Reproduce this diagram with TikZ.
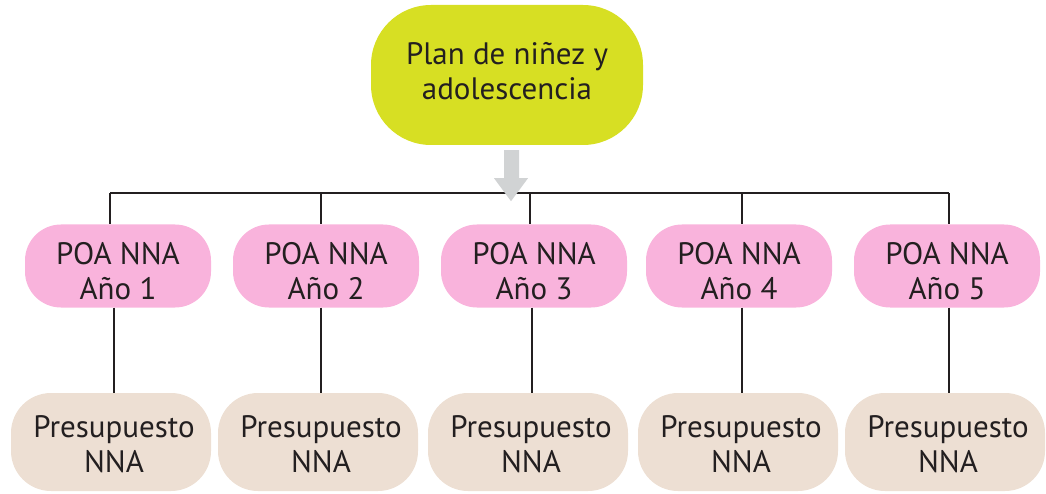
\documentclass[tikz,border=0pt]{standalone}
\usepackage{fontspec}
\setmainfont{PT Sans}
\definecolor{lime}{HTML}{D7DF23}
\definecolor{pinkb}{HTML}{F9B3DC}
\definecolor{beige}{HTML}{EDDFD3}
\definecolor{ink}{HTML}{231F20}
\definecolor{arrowgray}{HTML}{D1D3D4}
\begin{document}
\begin{tikzpicture}[x=1pt,y=-1pt,
  blobtext/.style={align=center, font=\fontsize{31}{35}\selectfont, text=ink, inner sep=0pt},
  topblob/.style={fill=lime, rounded corners=60pt, minimum width=272pt, minimum height=140pt, inner sep=0pt},
  poa/.style={fill=pinkb, rounded corners=36pt, minimum width=186pt, minimum height=83pt, inner sep=0pt},
  pres/.style={fill=beige, rounded corners=40pt, minimum width=200pt, minimum height=98pt, inner sep=0pt},
  conn/.style={draw=ink, line width=1.4pt}]
\useasboundingbox (0,0) rectangle (1046,494);

\node[topblob] (top) at (507,75) {};
\node[blobtext] (topt) at ([yshift=4pt]top.center) {Plan de niñez y\\adolescencia};

\foreach \i/\x in {1/118,2/326,3/534,4/739,5/947}{
  \node[poa] (p\i) at (\x,266) {};
  \node[blobtext] (p\i t) at ([yshift=-5pt]p\i.center) {POA NNA\\Año \i};
}
\foreach \i/\x in {1/111,2/318,3/528,4/738,5/945}{
  \node[pres] (b\i) at (\x,442) {};
  \node[blobtext] (b\i t) at ([xshift=3pt,yshift=-2pt]b\i.center) {Presupuesto\\NNA};
}

\coordinate (t1) at (110,193);
\coordinate (t2) at (321,193);
\coordinate (t3) at (530,193);
\coordinate (t4) at (742,193);
\coordinate (t5) at (949,193);
\coordinate (l1) at (114,350);
\coordinate (l2) at (321,350);
\coordinate (l3) at (532,350);
\coordinate (l4) at (742,350);
\coordinate (l5) at (949,350);

\draw[conn] (t1) -- (t5);
\foreach \i in {1,...,5}{
  \draw[conn] (t\i) -- (t\i |- p\i.north);
  \draw[conn] (p\i.south -| l\i) -- (b\i.north -| l\i);
}

\fill[arrowgray] (top.south) ++(-3,5) -- ++(15,0) -- ++(0,28) -- ++(9,0)
  -- ++(-17,23) -- ++(-17,-23) -- ++(10,0) -- cycle;
\end{tikzpicture}
\end{document}
